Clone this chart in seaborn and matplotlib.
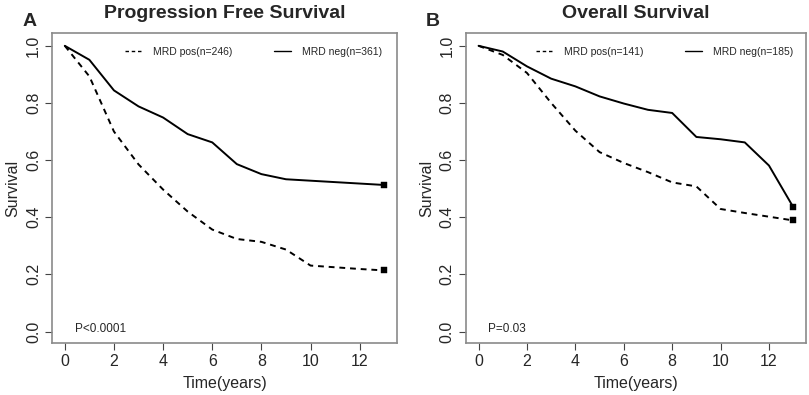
import matplotlib
matplotlib.use("Agg")
import matplotlib.pyplot as plt
import pandas as pd
import seaborn as sns
from matplotlib.lines import Line2D

# Progression free survival (panel A)
pfs_years = [0, 1, 2, 3, 4, 5, 6, 7, 8, 9, 10, 11, 12, 13]
pfs_pos = [1.0, 0.893, 0.70, 0.585, 0.497, 0.42, 0.357, 0.324, 0.314, 0.287, 0.231, 0.225, 0.219, 0.214]
pfs_neg = [1.0, 0.951, 0.844, 0.788, 0.749, 0.691, 0.662, 0.586, 0.551, 0.533, 0.528, 0.523, 0.518, 0.513]

# Overall survival (panel B)
os_years = [0, 1, 2, 3, 4, 5, 6, 7, 8, 9, 10, 11, 12, 13]
os_pos = [1.0, 0.968, 0.905, 0.80, 0.703, 0.628, 0.59, 0.558, 0.522, 0.508, 0.429, 0.415, 0.402, 0.389]
os_neg = [1.0, 0.98, 0.928, 0.885, 0.858, 0.823, 0.798, 0.776, 0.765, 0.681, 0.673, 0.662, 0.581, 0.436]

panels = [
    ("A", "Progression Free Survival", pfs_years, pfs_pos, pfs_neg, "MRD pos(n=246)", "MRD neg(n=361)", "P<0.0001"),
    ("B", "Overall Survival", os_years, os_pos, os_neg, "MRD pos(n=141)", "MRD neg(n=185)", "P=0.03"),
]

sns.set_style("white")
plt.rcParams["font.family"] = ["Liberation Sans", "DejaVu Sans"]

fig = plt.figure(figsize=(8.09, 3.95), dpi=100)
axes_pos = [[0.0643, 0.1316, 0.4265, 0.785], [0.576, 0.1316, 0.420, 0.785]]
letter_x = [0.037, 0.535]

for (letter, title, years, pos, neg, lab_pos, lab_neg, ptxt), rect, lx in zip(panels, axes_pos, letter_x):
    ax = fig.add_axes(rect)
    df = pd.DataFrame({
        "years": years + years,
        "survival": pos + neg,
        "group": [lab_pos] * len(years) + [lab_neg] * len(years),
    })
    sns.lineplot(data=df, x="years", y="survival", style="group",
                 dashes={lab_pos: (3, 2.5), lab_neg: ""}, color="black",
                 linewidth=1.4, legend=False, ax=ax)
    # censor marks at the last time point
    end = df[df["years"] == years[-1]]
    sns.scatterplot(data=end, x="years", y="survival", marker="s", s=14,
                    color="black", edgecolor="black", legend=False, ax=ax)

    ax.set_xlim(-0.52, 13.52)
    ax.set_ylim(-0.04, 1.045)
    ax.set_xticks(range(0, 13, 2))
    ax.set_yticks([0.0, 0.2, 0.4, 0.6, 0.8, 1.0])
    ax.set_yticklabels(["0.0", "0.2", "0.4", "0.6", "0.8", "1.0"], rotation=90, va="center")
    ax.tick_params(axis="both", direction="out", length=5, width=0.8, color="#444444",
                   labelsize=11.5, bottom=True, left=True, pad=3)
    for sp in ax.spines.values():
        sp.set_color("#8a8a8a")
        sp.set_linewidth(1.2)
    ax.set_xlabel("Time(years)", fontsize=11.5, labelpad=5)
    ax.set_ylabel("Survival", fontsize=11.5, labelpad=4)

    handles = [Line2D([], [], color="black", lw=1.0, dashes=(2.5, 2)),
               Line2D([], [], color="black", lw=1.0)]
    ax.legend(handles, [lab_pos, lab_neg], ncol=2, frameon=False, fontsize=7.5,
              loc="upper center", bbox_to_anchor=(0.585, 0.985), handlelength=1.6,
              handletextpad=1.1, columnspacing=4.0)
    ax.text(0.4, 0.01, ptxt, fontsize=8.5, ha="left", va="center")

    ax.set_title(title, fontsize=14, fontweight="bold", pad=11)
    fig.text(lx, 0.945, letter, fontsize=14, fontweight="bold", ha="center", va="center")

fig.savefig("out.png", dpi=100)
